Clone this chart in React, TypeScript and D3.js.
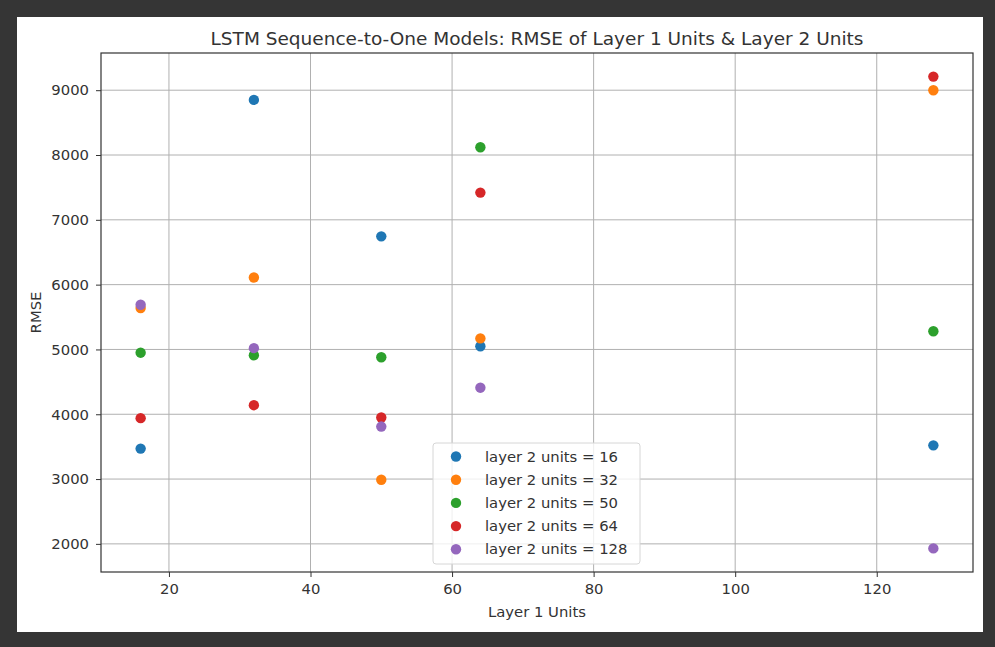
import React, { useEffect, useRef } from "react";
import * as d3 from "d3";

// layer 1 units on the x axis
const layer1Units = [16, 32, 50, 64, 128];

// one series per layer 2 setting
const seriesNames = [
  "layer 2 units = 16",
  "layer 2 units = 32",
  "layer 2 units = 50",
  "layer 2 units = 64",
  "layer 2 units = 128",
];

const rmse16 = [3470, 8850, 6745, 5050, 3520];
const rmse32 = [5640, 6110, 2990, 5170, 9000];
const rmse50 = [4950, 4910, 4880, 8120, 5280];
const rmse64 = [3940, 4140, 3950, 7420, 9210];
const rmse128 = [5690, 5020, 3810, 4410, 1930];

const xTicks = [20, 40, 60, 80, 100, 120];
const yTicks = [2000, 3000, 4000, 5000, 6000, 7000, 8000, 9000];

const colors = ["#1f77b4", "#ff7f0e", "#2ca02c", "#d62728", "#9467bd"];

const W = 995;
const H = 647;

export default function App() {
  const svgRef = useRef<SVGSVGElement | null>(null);

  useEffect(() => {
    const svg = d3.select(svgRef.current);
    svg.selectAll("*").remove();

    const font = "DejaVu Sans, sans-serif";
    const allSeries = [rmse16, rmse32, rmse50, rmse64, rmse128];

    // dark frame around the white figure
    svg.append("rect").attr("width", W).attr("height", H).attr("fill", "#353535");
    svg
      .append("rect")
      .attr("x", 17)
      .attr("y", 17)
      .attr("width", 966)
      .attr("height", 615)
      .attr("fill", "#fff");

    const plot = { left: 101, top: 53, right: 973, bottom: 572 };

    // matplotlib style 5% margins
    const xMin = d3.min(layer1Units) as number;
    const xMax = d3.max(layer1Units) as number;
    const xPad = (xMax - xMin) * 0.05;
    const allVals = allSeries.flat();
    const yMin = d3.min(allVals) as number;
    const yMax = d3.max(allVals) as number;
    const yPad = (yMax - yMin) * 0.05;

    const x = d3
      .scaleLinear()
      .domain([xMin - xPad, xMax + xPad])
      .range([plot.left, plot.right]);
    const y = d3
      .scaleLinear()
      .domain([yMin - yPad, yMax + yPad])
      .range([plot.bottom, plot.top]);

    // grid
    const grid = svg.append("g").attr("stroke", "#b0b0b0").attr("stroke-width", 1);
    grid
      .selectAll(".gx")
      .data(xTicks)
      .enter()
      .append("line")
      .attr("x1", (d) => x(d))
      .attr("x2", (d) => x(d))
      .attr("y1", plot.top)
      .attr("y2", plot.bottom);
    grid
      .selectAll(".gy")
      .data(yTicks)
      .enter()
      .append("line")
      .attr("x1", plot.left)
      .attr("x2", plot.right)
      .attr("y1", (d) => y(d))
      .attr("y2", (d) => y(d));

    // axes
    const xAxis = svg
      .append("g")
      .attr("transform", `translate(0,${plot.bottom})`)
      .call(d3.axisBottom(x).tickValues(xTicks).tickSize(5).tickPadding(6).tickFormat(d3.format("d")));
    const yAxis = svg
      .append("g")
      .attr("transform", `translate(${plot.left},0)`)
      .call(d3.axisLeft(y).tickValues(yTicks).tickSize(5).tickPadding(7).tickFormat(d3.format("d")));
    [xAxis, yAxis].forEach((a) => {
      a.select(".domain").remove();
      a.selectAll("line").attr("stroke", "#333");
      a.selectAll("text").attr("font-family", font).attr("font-size", 14.8).attr("fill", "#333");
    });

    // frame of the axes
    svg
      .append("rect")
      .attr("x", plot.left)
      .attr("y", plot.top)
      .attr("width", plot.right - plot.left)
      .attr("height", plot.bottom - plot.top)
      .attr("fill", "none")
      .attr("stroke", "#333")
      .attr("stroke-width", 1.2);

    // points
    allSeries.forEach((vals, i) => {
      svg
        .append("g")
        .selectAll("circle")
        .data(vals)
        .enter()
        .append("circle")
        .attr("cx", (_d, j) => x(layer1Units[j]))
        .attr("cy", (d) => y(d))
        .attr("r", 5.2)
        .attr("fill", colors[i]);
    });

    // titles
    svg
      .append("text")
      .attr("x", (plot.left + plot.right) / 2)
      .attr("y", 45)
      .attr("text-anchor", "middle")
      .attr("font-family", font)
      .attr("font-size", 18.5)
      .attr("fill", "#333")
      .text("LSTM Sequence-to-One Models: RMSE of Layer 1 Units & Layer 2 Units");
    svg
      .append("text")
      .attr("x", (plot.left + plot.right) / 2)
      .attr("y", 617)
      .attr("text-anchor", "middle")
      .attr("font-family", font)
      .attr("font-size", 14.8)
      .attr("fill", "#333")
      .text("Layer 1 Units");
    svg
      .append("text")
      .attr("transform", `translate(40.5,${(plot.top + plot.bottom) / 2}) rotate(-90)`)
      .attr("text-anchor", "middle")
      .attr("font-family", font)
      .attr("font-size", 14.8)
      .attr("fill", "#333")
      .text("RMSE");

    // legend
    const lg = svg.append("g").attr("transform", "translate(433,443)");
    lg.append("rect")
      .attr("width", 207)
      .attr("height", 121)
      .attr("rx", 3)
      .attr("fill", "#fff")
      .attr("fill-opacity", 0.8)
      .attr("stroke", "#d6d6d6");
    seriesNames.forEach((name, i) => {
      lg.append("circle")
        .attr("cx", 23)
        .attr("cy", 13.5 + i * 23.2)
        .attr("r", 5.2)
        .attr("fill", colors[i]);
      lg.append("text")
        .attr("x", 52)
        .attr("y", 13.5 + i * 23.2)
        .attr("dy", "0.35em")
        .attr("font-family", font)
        .attr("font-size", 14.8)
        .attr("fill", "#333")
        .text(name);
    });
  }, []);

  return (
    <svg
      ref={svgRef}
      width={W}
      height={H}
      style={{ position: "absolute", left: 0, top: 0, display: "block" }}
    />
  );
}
